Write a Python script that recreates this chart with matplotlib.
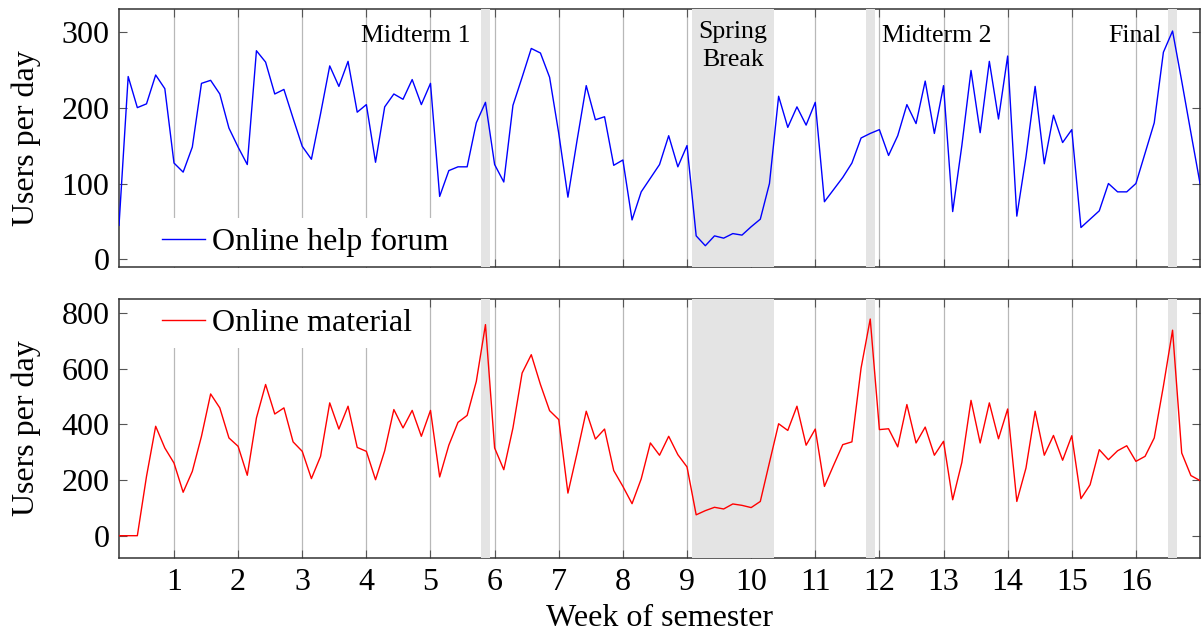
import matplotlib.pyplot as plt
import numpy as np

# daily values, day 1 .. 119 of the semester
forum = [45, 241, 200, 205, 243, 225, 127, 115, 148, 232, 236, 218, 173, 148,
         125, 275, 260, 218, 224, 186, 149, 132, 192, 255, 228, 261, 194, 204,
         128, 201, 218, 211, 237, 204, 232, 83, 117, 122, 122, 180, 207, 125,
         102, 203, 240, 278, 272, 240, 166, 82, 157, 229, 184, 188, 124, 131,
         52, 89, 107, 125, 163, 122, 150, 31, 18, 31, 28, 34, 32, 43,
         53, 100, 215, 174, 201, 177, 207, 76, 92, 108, 127, 160, 166, 171,
         137, 163, 204, 179, 235, 166, 229, 63, 150, 249, 167, 261, 185, 268,
         57, 135, 228, 126, 190, 154, 171, 42, 53, 64, 100, 89, 89, 100,
         140, 180, 273, 301, 235, 167, 100]
material = [0, 0, 0, 213, 393, 315, 261, 156, 231, 357, 509, 459, 351, 321,
            217, 423, 543, 437, 459, 337, 303, 205, 285, 477, 383, 465, 317, 303,
            201, 305, 453, 387, 450, 357, 450, 211, 325, 407, 432, 554, 758, 315,
            237, 387, 584, 650, 543, 449, 417, 153, 297, 447, 347, 383, 234, 177,
            115, 204, 333, 289, 357, 291, 247, 75, 90, 102, 96, 114, 109, 101,
            123, 263, 402, 378, 465, 325, 383, 177, 253, 327, 337, 602, 778, 381,
            384, 319, 471, 333, 390, 289, 339, 129, 263, 486, 333, 477, 348, 455,
            123, 243, 447, 289, 360, 271, 359, 133, 183, 309, 273, 305, 323, 267,
            285, 351, 537, 738, 297, 216, 198]

exam_days = [41, 83, 116]
exam_names = ["Midterm 1", "Midterm 2", "Final"]
break_days = (64, 72)
week_ticks = list(range(1, 17))

days = np.arange(1, len(forum) + 1)
weeks = days / 7

plt.rcParams['font.family'] = ['Liberation Serif', 'DejaVu Serif']
plt.rcParams['font.size'] = 23

fig = plt.figure(figsize=(12.01, 6.34), dpi=100)
ax1 = fig.add_axes([0.0991, 0.5789, 0.9001, 0.4069])
ax2 = fig.add_axes([0.0991, 0.1199, 0.9001, 0.4085])


def style(ax):
    ax.set_xlim(1 / 7, 17)
    ax.set_xticks(week_ticks)
    ax.set_axisbelow(True)
    ax.grid(axis='x', color='#b8b8b8', lw=0.9)
    ax.tick_params(direction='in', top=True, right=True, length=6,
                   width=0.8, color='#555555', pad=7, labelsize=23)
    for s in ax.spines.values():
        s.set_zorder(0.8)
        s.set_linewidth(1.1)
        s.set_color('#333333')
    # exam days and spring break
    for d in exam_days:
        ax.axvspan((d - 0.5) / 7, (d + 0.5) / 7, color='#e4e4e4', lw=0, zorder=1)
    ax.axvspan((break_days[0] - 0.5) / 7, (break_days[1] + 0.5) / 7,
               color='#e4e4e4', lw=0, zorder=1)
    ax.set_ylabel("Users per day")
    ax.yaxis.set_label_coords(-0.072, 0.5)


style(ax1)
style(ax2)

ax1.plot(weeks, forum, color='blue', lw=1.0, zorder=2, label="Online help forum")
ax1.set_ylim(-10, 330)
ax1.set_yticks([0, 100, 200, 300])
ax1.tick_params(labelbottom=False)

ax2.plot(weeks, material, color='red', lw=1.0, zorder=2, label="Online material")
ax2.set_ylim(-80, 850)
ax2.set_yticks([0, 200, 400, 600, 800])
ax2.set_xlabel("Week of semester")
ax2.xaxis.set_label_coords(0.5, -0.178)

leg_kw = dict(frameon=True, fancybox=False, facecolor='white', edgecolor='none',
              framealpha=1, handlelength=1.35, handletextpad=0.22,
              borderpad=0.3, borderaxespad=0, fontsize=23)
leg1 = ax1.legend(loc='lower left', bbox_to_anchor=(0.0305, 0), **leg_kw)
leg2 = ax2.legend(loc='upper left', bbox_to_anchor=(0.0305, 1), **leg_kw)
# legend above the grid but under the frame
leg1.set_zorder(0.7)
leg2.set_zorder(0.7)

# annotations
ax1.text(exam_days[0] / 7 - 0.23, 294, exam_names[0], ha='right', va='center', fontsize=18.6)
ax1.text(exam_days[1] / 7 + 0.18, 294, exam_names[1], ha='left', va='center', fontsize=18.6)
ax1.text(exam_days[2] / 7 - 0.18, 294, exam_names[2], ha='right', va='center', fontsize=18.6)
ax1.text(sum(break_days) / 14, 281, "Spring\nBreak", ha='center', va='center',
         fontsize=18.6, linespacing=1.35)

fig.savefig("out.png", dpi=100)
